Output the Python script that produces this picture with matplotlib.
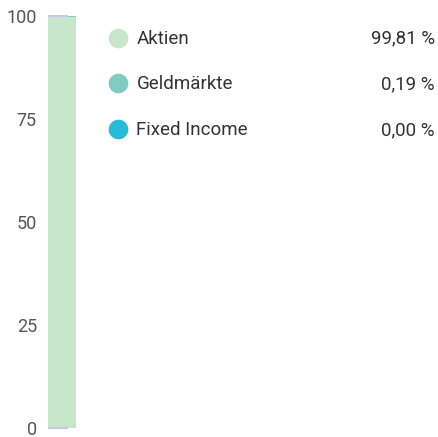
import matplotlib
matplotlib.use("Agg")
import matplotlib.pyplot as plt

categories = ["Aktien", "Geldmärkte", "Fixed Income"]
values = [99.81, 0.19, 0.00]
colors = ["#c8e6c9", "#80cbc4", "#26bcd7"]
yticks = [0, 25, 50, 75, 100]

W, H = 438, 437
fig = plt.figure(figsize=(W / 100, H / 100), dpi=100)
plt.rcParams['font.family'] = ['Roboto', 'DejaVu Sans']

# bar axes: 0 at y=428px, 100 at y=16px; bar x 48..76 px
ax = fig.add_axes([48 / W, (H - 428) / H, 28 / W, (428 - 16) / H])
ax.set_xlim(0, 1)
ax.set_ylim(0, 100)
bottom = 0
for v, c in zip(values, colors):
    ax.bar(0, v, bottom=bottom, width=1, align='edge', color=c, linewidth=0)
    bottom += v
for y in (yticks[0], yticks[-1]):
    ax.plot([0, 0.72], [y, y], color="#c5cae9", lw=1.5, zorder=5, clip_on=False,
            solid_capstyle='butt')
ax.set_yticks(yticks)
ax.set_yticklabels([str(t) for t in yticks])
ax.tick_params(axis='y', length=0, pad=8, labelsize=13, labelcolor="#555555")
ax.set_xticks([])
for s in ax.spines.values():
    s.set_visible(False)

# legend overlay in pixel coordinates
ov = fig.add_axes([0, 0, 1, 1])
ov.set_xlim(0, W)
ov.set_ylim(H, 0)
ov.axis('off')
ys = [37.5, 83, 129]
for cat, v, c, y in zip(categories, values, colors, ys):
    ov.scatter([117.5], [y], s=200, color=c, linewidths=0)
    ov.text(136.5, y + 1, cat, fontsize=13.5, color="#333333", va='center', ha='left')
    ov.text(435, y + 1, f"{v:.2f}".replace('.', ',') + " %", fontsize=13.5,
            color="#333333", va='center', ha='right')

fig.savefig("out.png", dpi=100)
